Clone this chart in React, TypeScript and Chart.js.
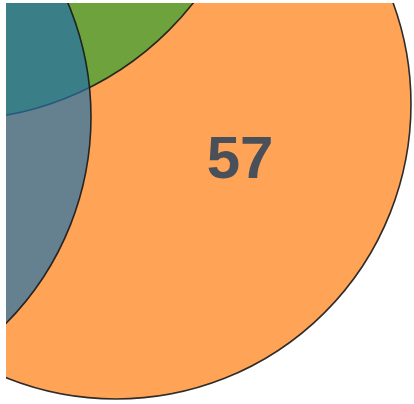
import React, { useEffect, useRef } from "react";
import { Chart, registerables } from "chart.js";

Chart.register(...registerables);

// Venn sets (circle centres and radii in data units)
const setNames = ["Orange", "Green", "Blue"];
const centerX = [110, -54, -208];
const centerY = [101, -190, 114];
const radii = [295, 307, 293];
const fillColors = [
  "rgba(255,126,14,0.7)",
  "rgba(49,161,49,0.7)",
  "rgba(36,112,167,0.7)",
];

// Region labels (value and anchor in data units, baseline)
const regionLabels = ["57"];
const regionX = [234];
const regionY = [175];

const X_MIN = 0;
const X_MAX = 408;
const Y_MIN = 0;
const Y_MAX = 401;

const labelPlugin = {
  id: "vennLabels",
  afterDatasetsDraw(chart: any) {
    const { ctx } = chart;
    const xs = chart.scales.x;
    const ys = chart.scales.y;
    ctx.save();
    ctx.font = "bold 60px 'Liberation Sans', Arial, sans-serif";
    ctx.fillStyle = "#4a505a";
    ctx.textAlign = "center";
    ctx.textBaseline = "alphabetic";
    regionLabels.forEach((t, i) => {
      ctx.fillText(t, xs.getPixelForValue(regionX[i]), ys.getPixelForValue(regionY[i]));
    });
    ctx.restore();
  },
};

export default function App() {
  const ref = useRef<HTMLCanvasElement | null>(null);
  useEffect(() => {
    if (!ref.current) return;
    const chart = new Chart(ref.current, {
      type: "bubble",
      data: {
        datasets: [
          {
            label: "sets",
            parsing: false,
            data: centerX.map((cx, i) => ({ x: cx, y: centerY[i], name: setNames[i] })) as any,
            backgroundColor: fillColors,
            borderColor: "rgba(25,25,25,0.9)",
            borderWidth: 1.6,
            clip: 0 as any,
            radius: (ctx: any) => {
              const s = ctx.chart.scales.x;
              const r = radii[ctx.dataIndex] ?? 0;
              if (!s) return 0;
              const px = Math.abs(s.getPixelForValue(r) - s.getPixelForValue(0));
              return isFinite(px) ? px : 0;
            },
          } as any,
        ],
      },
      options: {
        responsive: false,
        animation: false,
        events: [],
        layout: { autoPadding: false, padding: { left: 6, top: 3, right: 0, bottom: 0 } } as any,
        scales: {
          x: { type: "linear", min: X_MIN, max: X_MAX, display: false },
          y: { type: "linear", min: Y_MIN, max: Y_MAX, reverse: true, display: false },
        },
        plugins: {
          legend: { display: false },
          tooltip: { enabled: false },
        },
      },
      plugins: [labelPlugin],
    });
    return () => chart.destroy();
  }, []);
  return (
    <div style={{ position: "fixed", left: 0, top: 0, width: 414, height: 404, background: "#fff" }}>
      <canvas ref={ref} width={414} height={404} style={{ display: "block", filter: "blur(0.6px)" }} />
    </div>
  );
}
